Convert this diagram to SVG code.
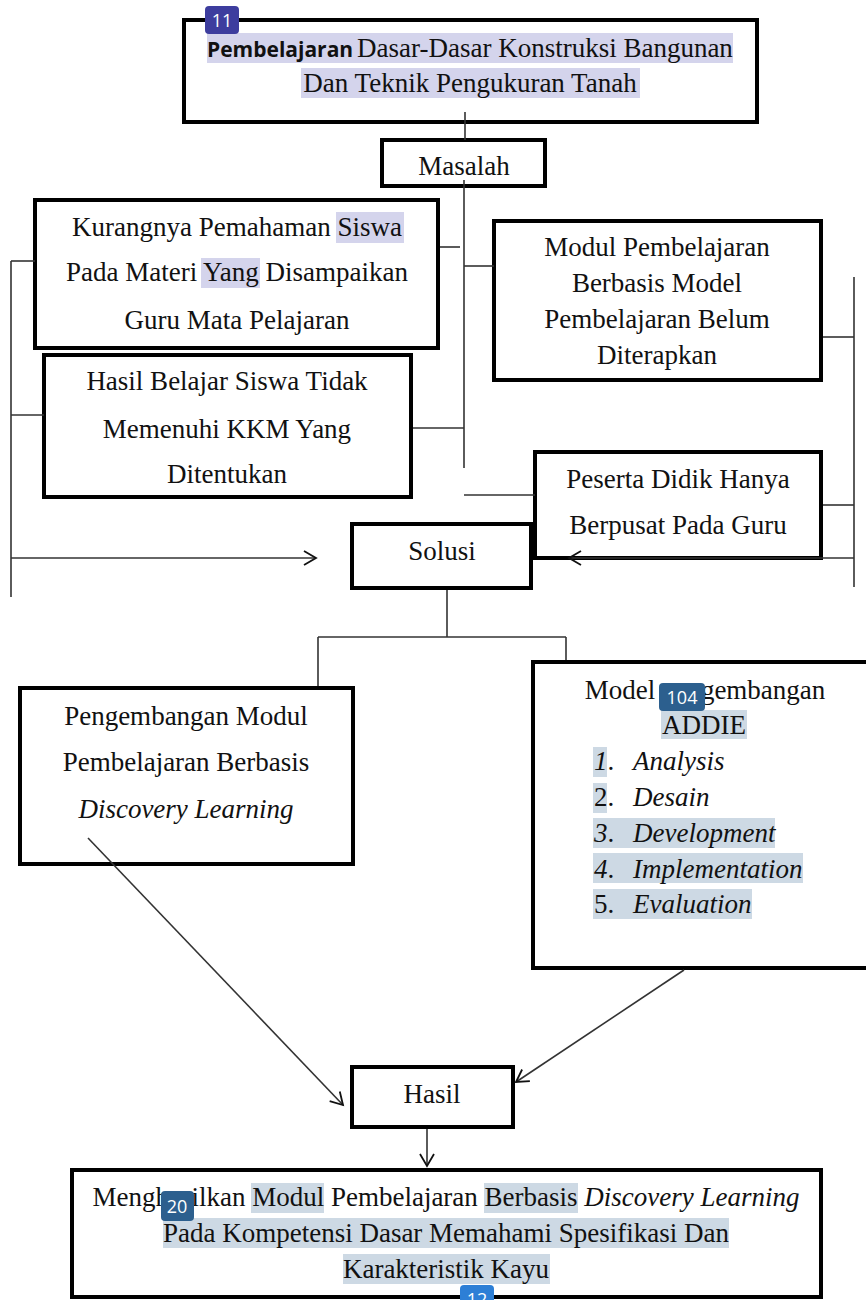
<svg xmlns="http://www.w3.org/2000/svg" width="866" height="1300" viewBox="0 0 866 1300">
<style>
.box{fill:#fff;stroke:#000;stroke-width:4}
.t{font-family:"Liberation Serif","Times New Roman",serif;font-size:27px;fill:#111}
.c{text-anchor:middle}
.i{font-style:italic}
.hl1{fill:#d4d4ec}
.hl2{fill:#cdd9e4}
.badge{font-family:"Open Sans","Noto Sans",sans-serif;font-size:18px;fill:#fff;text-anchor:middle}
.conn{fill:none;stroke:#333;stroke-width:1.6}
</style>
<defs>
<marker id="ah" markerUnits="userSpaceOnUse" markerWidth="16" markerHeight="18" refX="13" refY="8" orient="auto">
<path d="M1,1 L13,8 L1,15" fill="none" stroke="#111" stroke-width="1.8"/>
</marker>
</defs>
<rect width="866" height="1300" fill="#fff"/>

<g id="node-title">
<rect class="box" x="184" y="20" width="573" height="102" stroke-width="4.5"/>
<rect class="hl1" x="207" y="33" width="526" height="30"/>
<rect class="hl1" x="301" y="68" width="339" height="30"/>
<text x="207" y="57" font-family="'Open Sans','Noto Sans',sans-serif" font-weight="bold" font-size="21" fill="#111">Pembelajaran</text>
<text class="t" x="357" y="57">Dasar-Dasar Konstruksi Bangunan</text>
<text class="t c" x="470" y="92">Dan Teknik Pengukuran Tanah</text>
<rect x="205" y="6" width="34" height="28" rx="4" fill="#3d3d9e"/>
<text class="badge" x="222" y="27">11</text>
</g>

<g id="node-masalah">
<rect class="box" x="382" y="140" width="163" height="46"/>
<text class="t c" x="464" y="175">Masalah</text>
</g>

<g id="node-kurangnya">
<rect class="box" x="35" y="200" width="403" height="148"/>
<rect class="hl1" x="336" y="212" width="68" height="31"/>
<rect class="hl1" x="201" y="258" width="59" height="30"/>
<text class="t c" x="237" y="236">Kurangnya Pemahaman Siswa</text>
<text class="t c" x="237" y="281">Pada Materi Yang Disampaikan</text>
<text class="t c" x="237" y="329">Guru Mata Pelajaran</text>
</g>

<g id="node-modul">
<rect class="box" x="494" y="221" width="327" height="159"/>
<text class="t c" x="657" y="256">Modul Pembelajaran</text>
<text class="t c" x="657" y="292">Berbasis Model</text>
<text class="t c" x="657" y="328">Pembelajaran Belum</text>
<text class="t c" x="657" y="364">Diterapkan</text>
</g>

<g id="node-hasilbelajar">
<rect class="box" x="44" y="355" width="367" height="142"/>
<text class="t c" x="227" y="390">Hasil Belajar Siswa Tidak</text>
<text class="t c" x="227" y="438">Memenuhi KKM Yang</text>
<text class="t c" x="227" y="483">Ditentukan</text>
</g>

<g id="node-peserta">
<rect class="box" x="535" y="452" width="286" height="106"/>
<text class="t c" x="678" y="488">Peserta Didik Hanya</text>
<text class="t c" x="678" y="534">Berpusat Pada Guru</text>
</g>

<g id="node-solusi">
<rect class="box" x="352" y="524" width="179" height="64"/>
<text class="t c" x="442" y="560">Solusi</text>
</g>

<g id="node-pengembangan">
<rect class="box" x="20" y="688" width="333" height="176"/>
<text class="t c" x="186" y="725">Pengembangan Modul</text>
<text class="t c" x="186" y="771">Pembelajaran Berbasis</text>
<text class="t c i" x="186" y="818">Discovery Learning</text>
</g>

<g id="node-addie">
<rect class="box" x="533" y="662" width="340" height="306"/>
<rect class="hl2" x="661" y="710" width="86" height="29"/>
<rect class="hl2" x="593" y="747" width="14" height="30"/>
<rect class="hl2" x="593" y="783" width="14" height="30"/>
<rect class="hl2" x="593" y="818" width="182" height="30"/>
<rect class="hl2" x="593" y="853" width="210" height="30"/>
<rect class="hl2" x="593" y="889" width="159" height="30"/>
<text class="t c" x="705" y="699">Model pengembangan</text>
<text class="t c" x="704" y="734">ADDIE</text>
<text class="t" x="594" y="770"><tspan class="i">1</tspan>.</text>
<text class="t i" x="633" y="770">Analysis</text>
<text class="t" x="594" y="806">2.</text>
<text class="t i" x="633" y="806">Desain</text>
<text class="t" x="594" y="842"><tspan class="i">3</tspan>.</text>
<text class="t i" x="633" y="842">Development</text>
<text class="t" x="594" y="878"><tspan class="i">4</tspan>.</text>
<text class="t i" x="633" y="878">Implementation</text>
<text class="t" x="594" y="913">5.</text>
<text class="t i" x="633" y="913">Evaluation</text>
<rect x="659" y="683" width="46" height="28" rx="4" fill="#2c5f8e"/>
<text class="badge" x="682" y="704">104</text>
</g>

<g id="node-hasil">
<rect class="box" x="352" y="1067" width="161" height="60"/>
<text class="t c" x="432" y="1103">Hasil</text>
</g>

<g id="node-output">
<rect class="box" x="72" y="1170" width="749" height="127"/>
<rect class="hl2" x="251" y="1183" width="73" height="30"/>
<rect class="hl2" x="484" y="1183" width="94" height="30"/>
<rect class="hl2" x="163" y="1218" width="566" height="30"/>
<rect class="hl2" x="343" y="1254" width="207" height="30"/>
<text class="t c" x="446" y="1206">Menghasilkan Modul Pembelajaran Berbasis <tspan class="i">Discovery Learning</tspan></text>
<text class="t c" x="446" y="1242">Pada Kompetensi Dasar Memahami Spesifikasi Dan</text>
<text class="t c" x="446" y="1278">Karakteristik Kayu</text>
<rect x="161" y="1191" width="33" height="30" rx="4" fill="#2c5f8e"/>
<text class="badge" x="177" y="1213">20</text>
<rect x="460" y="1285" width="34" height="24" rx="4" fill="#2d7fd6"/>
<text class="badge" x="477" y="1306">12</text>
</g>

<g id="connectors">
<path class="conn" d="M465,112 V140"/>
<path class="conn" d="M464,180 V468"/>
<path class="conn" d="M440,247 H460"/>
<path class="conn" d="M464,266 H494"/>
<path class="conn" d="M413,428 H464"/>
<path class="conn" d="M464,495 H535"/>
<path class="conn" d="M11,261 V597"/>
<path class="conn" d="M11,261 H35"/>
<path class="conn" d="M11,415 H44"/>
<path class="conn" d="M11,558 H316" marker-end="url(#ah)"/>
<path class="conn" d="M854,277 V587"/>
<path class="conn" d="M823,337 H854"/>
<path class="conn" d="M823,505 H854"/>
<path class="conn" d="M854,558 H569" marker-end="url(#ah)"/>
<path class="conn" d="M447,590 V637"/>
<path class="conn" d="M318,637 H566"/>
<path class="conn" d="M318,637 V686"/>
<path class="conn" d="M566,637 V660"/>
<path class="conn" d="M88,838 L343,1105" marker-end="url(#ah)"/>
<path class="conn" d="M684,970 L516,1082" marker-end="url(#ah)"/>
<path class="conn" d="M427,1129 V1166" marker-end="url(#ah)"/>
</g>
</svg>
